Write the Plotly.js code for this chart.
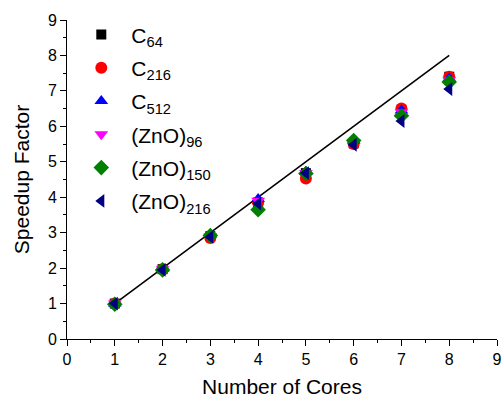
<!DOCTYPE html>
<html><head><meta charset="utf-8">
<script src="https://cdn.plot.ly/plotly-3.0.1.min.js"></script>
<style>html,body{margin:0;padding:0;background:#fff}</style>
</head><body><div id="chart" style="width:503px;height:400px"></div>
<script>
const cores = [1, 2, 3, 4, 5, 6, 7, 8];
const idealX = [1, 8];
const idealY = [1, 8];
const seriesNames = ['C<sub>64</sub>', 'C<sub>216</sub>', 'C<sub>512</sub>', '(ZnO)<sub>96</sub>', '(ZnO)<sub>150</sub>', '(ZnO)<sub>216</sub>'];
const c64 = [1.0, 1.97, 2.90, 3.85, 4.68, 5.52, 6.45, 7.40];
const c216 = [1.0, 1.97, 2.85, 3.85, 4.53, 5.50, 6.50, 7.40];
const c512 = [1.0, 1.98, 2.95, 3.95, 4.72, 5.60, 6.45, 7.35];
const zno96 = [1.0, 1.97, 2.90, 3.90, 4.68, 5.55, 6.40, 7.30];
const zno150 = [0.98, 1.95, 2.92, 3.65, 4.67, 5.60, 6.30, 7.25];
const zno216 = [1.0, 1.95, 2.88, 3.82, 4.68, 5.48, 6.15, 7.05];
const seriesVals = [c64, c216, c512, zno96, zno150, zno216];
const colors = ['#000000', '#ff0000', '#0000ff', '#ff00ff', '#008000', '#000080'];
const symbols = ['square', 'circle', 'triangle-up', 'triangle-down', 'diamond', 'triangle-left'];
const sizes = [10, 12, 12, 12, 12, 12];

const traces = [{
  x: idealX, y: idealY, mode: 'lines', line: {color: '#000', width: 1.6},
  showlegend: false, hoverinfo: 'skip'
}];
seriesVals.forEach((v, i) => traces.push({
  x: cores, y: v, name: seriesNames[i], mode: 'markers', legendgroup: 'g' + i,
  marker: {symbol: symbols[i], color: colors[i], size: sizes[i], line: {width: 0}}
}));

const axBase = {
  showline: true, linecolor: '#000', linewidth: 1, ticks: 'outside', ticklen: 6, tickwidth: 1,
  tickcolor: '#000', showgrid: false, zeroline: false, mirror: false,
  tickfont: {family: 'Liberation Sans, Arial', size: 16, color: '#000'},
  minor: {dtick: 0.5, ticks: 'outside', ticklen: 3, tickwidth: 1, tickcolor: '#000', showgrid: false}
};
const layout = {
  width: 503, height: 400,
  margin: {l: 67, r: 6, t: 20, b: 61},
  paper_bgcolor: '#fff', plot_bgcolor: '#fff',
  font: {family: 'Liberation Sans, Arial', color: '#000'},
  xaxis: Object.assign({}, axBase, {range: [0, 9], dtick: 1, tick0: 0,
    title: {text: 'Number of Cores', font: {size: 21}, standoff: 12}}),
  yaxis: Object.assign({}, axBase, {range: [0, 9], dtick: 1, tick0: 0,
    title: {text: 'Speedup Factor', font: {size: 21}, standoff: 12}}),
  legend: {x: 0.01, y: 1.018, xanchor: 'left', yanchor: 'top', bgcolor: 'rgba(0,0,0,0)',
    font: {size: 21, family: 'Liberation Sans, Arial'}, tracegroupgap: 3, itemwidth: 50},
  showlegend: true
};
Plotly.newPlot('chart', traces, layout, {staticPlot: true, displayModeBar: false});
</script></body></html>
